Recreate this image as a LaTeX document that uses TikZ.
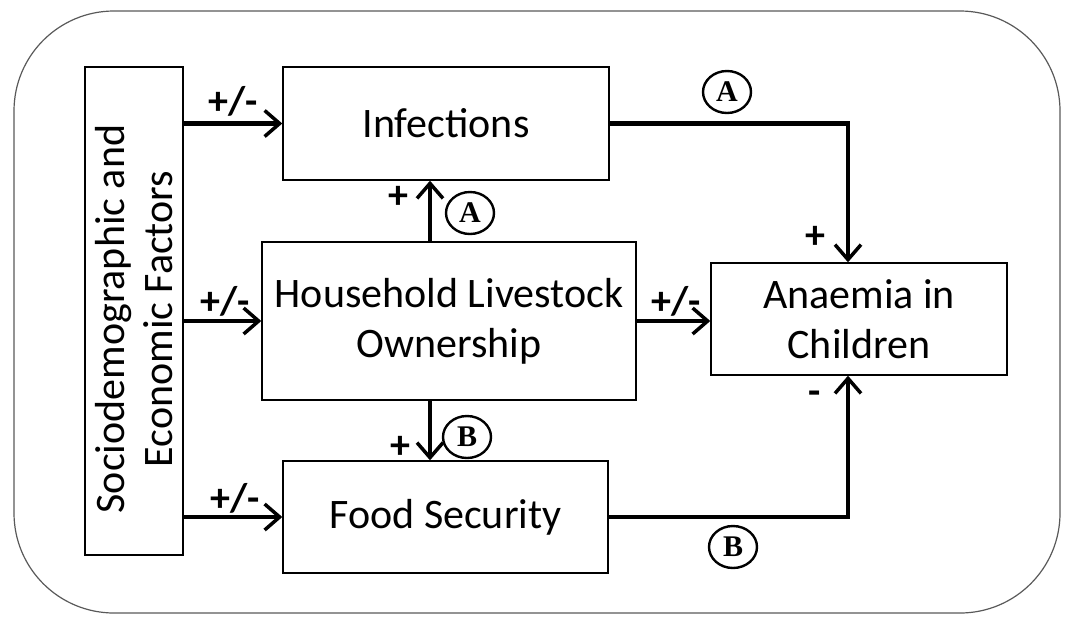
\documentclass[tikz,border=0pt]{standalone}
\usepackage{fontspec}
\setmainfont{Carlito}
\newfontfamily\tnr{Liberation Serif}
\usetikzlibrary{arrows.meta,shapes.geometric}
\begin{document}
\begin{tikzpicture}[x=1pt,y=-1pt,
  box/.style={draw, line width=1.4pt, inner sep=0pt, align=center, font=\fontsize{42}{50}\selectfont},
  arr/.style={line width=4.5pt, -{Straight Barb[length=15pt,width=26pt,line width=3.5pt]}},
  sgn/.style={inner sep=0pt, font=\fontsize{40}{40}\selectfont\bfseries},
  circ/.style={draw, ellipse, line width=2.4pt, inner sep=0pt, minimum width=48pt, minimum height=42pt, font=\tnr\fontsize{30}{30}\selectfont\bfseries}]
\useasboundingbox (0,0) rectangle (1073,625);
\draw[black!65, line width=1.2pt, rounded corners=100pt] (14,11) rectangle (1060,613);

\node[box, minimum width=98pt, minimum height=488pt] (soc) at (134,311) {};
\node[rotate=90, align=center, inner sep=0pt, font=\fontsize{42}{48}\selectfont] (soctext) at ([yshift=-8pt]soc.center) {Sociodemographic and\\Economic Factors};
\node[box, minimum width=326pt, minimum height=113pt] (inf) at (446,123.5) {Infections};
\node[box, minimum width=374pt, minimum height=158pt] (hh) at (449,321) {Household Livestock\\Ownership};
\node[box, minimum width=325pt, minimum height=112pt] (food) at (445.5,517) {Food Security};
\node[box, minimum width=296pt, minimum height=112pt] (an) at (859,319) {Anaemia in\\Children};

\draw[arr] (soc.east |- inf.west) -- (inf.west);
\draw[arr] (soc.east |- hh.west) -- (hh.west);
\draw[arr] (soc.east |- food.west) -- (food.west);
\draw[arr] ([xshift=-19pt]hh.north) -- ([xshift=-19pt]hh.north |- inf.south);
\draw[arr] ([xshift=-19pt]hh.south) -- ([xshift=-19pt]hh.south |- food.north);
\draw[arr] (hh.east) -- (hh.east -| an.west);
\draw[arr] (inf.east) -| ([xshift=-11pt]an.north);
\draw[arr] (food.east) -| ([xshift=-11pt]an.south);

\node[sgn] (s1) at (233,101) {+/-};
\node[sgn] (s2) at (225,301) {+/-};
\node[sgn] (s3) at (235,498) {+/-};
\node[sgn] (s4) at (676,301) {+/-};
\node[sgn] (p1) at (398,197) {+};
\node[sgn] (p2) at (400,447) {+};
\node[sgn] (p3) at (815,237) {+};
\node[sgn] (m1) at (815,398) {-};

\node[circ] (ca1) at (470,213) {A};
\node[circ] (ca2) at (727,92) {A};
\node[circ] (cb1) at (467,437) {B};
\node[circ] (cb2) at (733,547) {B};
\end{tikzpicture}
\end{document}
